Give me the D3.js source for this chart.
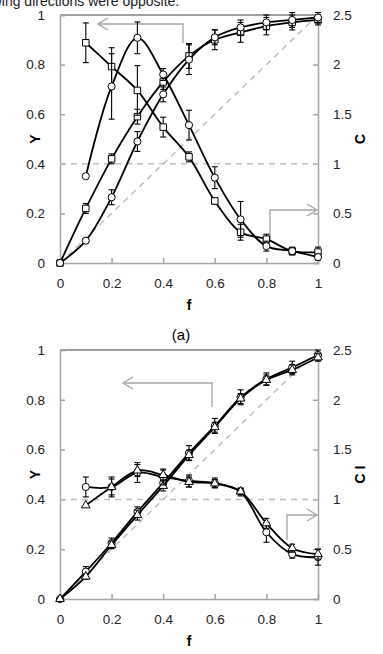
<!DOCTYPE html>
<html>
<head>
<meta charset="utf-8">
<script src="https://cdn.jsdelivr.net/npm/d3@7"></script>
<style>
  body { margin: 0; background: #fff; }
  svg { display: block; }
</style>
</head>
<body>
<svg id="chart" width="383" height="654"></svg>
<script>
// datos
const fVals = [0, 0.1, 0.2, 0.3, 0.4, 0.5, 0.6, 0.7, 0.8, 0.9, 1];
const fValsC = [0.1, 0.2, 0.3, 0.4, 0.5, 0.6, 0.7, 0.8, 0.9, 1];
const yTicks = [0, 0.2, 0.4, 0.6, 0.8, 1];
const cTicks = [0, 0.5, 1, 1.5, 2, 2.5];
const xTicks = [0, 0.2, 0.4, 0.6, 0.8, 1];

// panel (a)
const aYSquare = [0, 0.22, 0.42, 0.59, 0.73, 0.835, 0.90, 0.93, 0.955, 0.97, 0.98];
const aYSquareErr = [0, 0.02, 0.02, 0.03, 0.03, 0.05, 0.04, 0.04, 0.035, 0.03, 0.02];
const aYCircle = [0, 0.09, 0.265, 0.49, 0.68, 0.82, 0.91, 0.95, 0.97, 0.98, 0.99];
const aYCircleErr = [0, 0, 0.03, 0.04, 0.03, 0.06, 0.03, 0.03, 0.03, 0.03, 0.02];
const aCSquare = [2.22, 1.98, 1.74, 1.37, 1.07, 0.625, 0.31, 0.24, 0.12, 0.11];
const aCSquareErr = [0.2, 0.19, 0.25, 0.1, 0.05, 0.03, 0.08, 0.05, 0.03, 0.05];
const aCCircle = [0.875, 1.78, 2.27, 1.90, 1.39, 0.86, 0.44, 0.17, 0.12, 0.06];
const aCCircleErr = [0, 0.33, 0.16, 0.06, 0.15, 0.11, 0.18, 0.05, 0.04, 0.03];

// panel (b)
const bYCircle = [0, 0.11, 0.225, 0.35, 0.466, 0.586, 0.695, 0.81, 0.883, 0.93, 0.98];
const bYCircleErr = [0, 0.02, 0.02, 0.02, 0.02, 0.03, 0.03, 0.03, 0.025, 0.025, 0.02];
const bYTriangle = [0, 0.09, 0.217, 0.337, 0.454, 0.578, 0.69, 0.805, 0.88, 0.92, 0.97];
const bYTriangleErr = [0, 0.01, 0.015, 0.02, 0.02, 0.02, 0.02, 0.02, 0.02, 0.02, 0.015];
const bCCircle = [1.125, 1.125, 1.27, 1.225, 1.185, 1.165, 1.075, 0.67, 0.45, 0.42];
const bCCircleErr = [0.1, 0.1, 0.1, 0.08, 0.06, 0.05, 0.04, 0.1, 0.04, 0.08];
const bCTriangle = [0.94, 1.125, 1.29, 1.245, 1.175, 1.16, 1.08, 0.76, 0.51, 0.45];
const bCTriangleErr = [0, 0.08, 0.06, 0.05, 0.05, 0.04, 0.03, 0.05, 0.04, 0.05];

const svg = d3.select("#chart");
const font = "'Liberation Sans', Arial, sans-serif";
const gris = "#a6a6a6";

// texto cortado arriba (viene de la pagina original)
svg.append("text")
    .attr("x", -34).attr("y", 6)
    .text("following directions were opposite.")
    .style("font-family", font).style("font-size", "14px").attr("fill", "#222");

function dibujarPanel(cfg) {
    const x = d3.scaleLinear().domain([0, 1]).range([60, 318]);
    const y = d3.scaleLinear().domain([0, 1]).range([cfg.bottom, cfg.top]);
    const yc = d3.scaleLinear().domain([0, 2.5]).range([cfg.bottom, cfg.top]);
    const g = svg.append("g");

    // marco
    g.append("line").attr("x1", 60).attr("x2", 318).attr("y1", cfg.top).attr("y2", cfg.top)
        .attr("stroke", "#808080").attr("stroke-width", 1.5);

    // ejes
    const ejeX = g.append("g").attr("transform", `translate(0,${cfg.bottom})`)
        .call(d3.axisBottom(x).tickValues(xTicks).tickSize(-5).tickPadding(15).tickFormat(d3.format("")));
    const ejeY = g.append("g").attr("transform", "translate(60,0)")
        .call(d3.axisLeft(y).tickValues(yTicks).tickSize(-5).tickPadding(15).tickFormat(d3.format("")));
    const ejeC = g.append("g").attr("transform", "translate(318,0)")
        .call(d3.axisRight(yc).tickValues(cTicks).tickSize(-5).tickPadding(15).tickFormat(d3.format("")));
    [ejeX, ejeY, ejeC].forEach(e => {
        e.selectAll("path,line").attr("stroke", gris).attr("stroke-width", 1.5);
        e.selectAll("text").style("font-family", font).style("font-size", "13.5px").attr("fill", "#222");
    });

    // lineas de referencia
    g.append("line").attr("x1", x(0)).attr("x2", x(1)).attr("y1", y(0.4)).attr("y2", y(0.4))
        .attr("stroke", "#bfbfbf").attr("stroke-width", 1.5).attr("stroke-dasharray", "6,5");
    g.append("line").attr("x1", x(0)).attr("y1", y(0)).attr("x2", x(1)).attr("y2", y(1))
        .attr("stroke", "#bfbfbf").attr("stroke-width", 1.5).attr("stroke-dasharray", "6,5");

    // flechas
    cfg.flechas.forEach(fl => {
        g.append("polyline").attr("points", fl.pts.map(p => p.join(",")).join(" "))
            .attr("fill", "none").attr("stroke", gris).attr("stroke-width", 1.3);
        const [tx, ty] = fl.pts[fl.pts.length - 1];
        const s = fl.dir;
        g.append("polyline")
            .attr("points", `${tx - s * 10},${ty - 6} ${tx},${ty} ${tx - s * 10},${ty + 6}`)
            .attr("fill", "none").attr("stroke", gris).attr("stroke-width", 1.3);
    });

    // series
    cfg.series.forEach(s => {
        const esc = s.eje === "C" ? yc : y;
        const datos = s.f.map((f, i) => ({ f: f, v: s.v[i], e: s.e[i] }));
        g.append("path").datum(datos)
            .attr("d", d3.line().x(d => x(d.f)).y(d => esc(d.v)).curve(d3.curveCatmullRom))
            .attr("fill", "none").attr("stroke", "#000").attr("stroke-width", 1.8);
        const eb = g.append("g").attr("stroke", "#000").attr("stroke-width", 1.1);
        datos.filter(d => d.e > 0).forEach(d => {
            const px = x(d.f);
            eb.append("line").attr("x1", px).attr("x2", px).attr("y1", esc(d.v - d.e)).attr("y2", esc(d.v + d.e));
            eb.append("line").attr("x1", px - 3).attr("x2", px + 3).attr("y1", esc(d.v - d.e)).attr("y2", esc(d.v - d.e));
            eb.append("line").attr("x1", px - 3).attr("x2", px + 3).attr("y1", esc(d.v + d.e)).attr("y2", esc(d.v + d.e));
        });
        const tipo = s.m === "square" ? d3.symbolSquare : s.m === "triangle" ? d3.symbolTriangle : d3.symbolCircle;
        const tam = s.m === "square" ? 42 : s.m === "triangle" ? 32 : 40;
        g.selectAll(null).data(datos).join("path")
            .attr("d", d3.symbol().type(tipo).size(tam))
            .attr("transform", d => `translate(${x(d.f)},${esc(d.v)})`)
            .attr("fill", "#fff").attr("stroke", "#000").attr("stroke-width", 1);
    });

    // titulos
    g.append("text").attr("x", 189).attr("y", cfg.bottom + 47).attr("text-anchor", "middle")
        .text("f").style("font-family", font).style("font-size", "14px").style("font-weight", "bold");
    g.append("text").attr("transform", `translate(40,${(cfg.top + cfg.bottom) / 2}) rotate(-90)`)
        .attr("text-anchor", "middle")
        .text("Y").style("font-family", font).style("font-size", "14px").style("font-weight", "bold");
    g.append("text").attr("transform", `translate(365,${(cfg.top + cfg.bottom) / 2}) rotate(-90)`)
        .attr("text-anchor", "middle")
        .text(cfg.tituloC).style("font-family", font).style("font-size", "14px").style("font-weight", "bold");
    if (cfg.etiqueta) {
        g.append("text").attr("x", 181).attr("y", cfg.bottom + 77).attr("text-anchor", "middle")
            .text(cfg.etiqueta).style("font-family", font).style("font-size", "15px");
    }
}

dibujarPanel({
    top: 15, bottom: 263, tituloC: "C", etiqueta: "(a)",
    flechas: [
        { pts: [[183, 43], [183, 24], [98, 24]], dir: -1 },
        { pts: [[270, 240], [270, 210], [317, 210]], dir: 1 }
    ],
    series: [
        { f: fVals, v: aYSquare, e: aYSquareErr, m: "square", eje: "Y" },
        { f: fVals, v: aYCircle, e: aYCircleErr, m: "circle", eje: "Y" },
        { f: fValsC, v: aCSquare, e: aCSquareErr, m: "square", eje: "C" },
        { f: fValsC, v: aCCircle, e: aCCircleErr, m: "circle", eje: "C" }
    ]
});

dibujarPanel({
    top: 350, bottom: 599, tituloC: "C I", etiqueta: null,
    flechas: [
        { pts: [[212, 407], [212, 383], [123, 383]], dir: -1 },
        { pts: [[287, 540], [287, 515], [317, 515]], dir: 1 }
    ],
    series: [
        { f: fVals, v: bYCircle, e: bYCircleErr, m: "circle", eje: "Y" },
        { f: fVals, v: bYTriangle, e: bYTriangleErr, m: "triangle", eje: "Y" },
        { f: fValsC, v: bCCircle, e: bCCircleErr, m: "circle", eje: "C" },
        { f: fValsC, v: bCTriangle, e: bCTriangleErr, m: "triangle", eje: "C" }
    ]
});
</script>
</body>
</html>
